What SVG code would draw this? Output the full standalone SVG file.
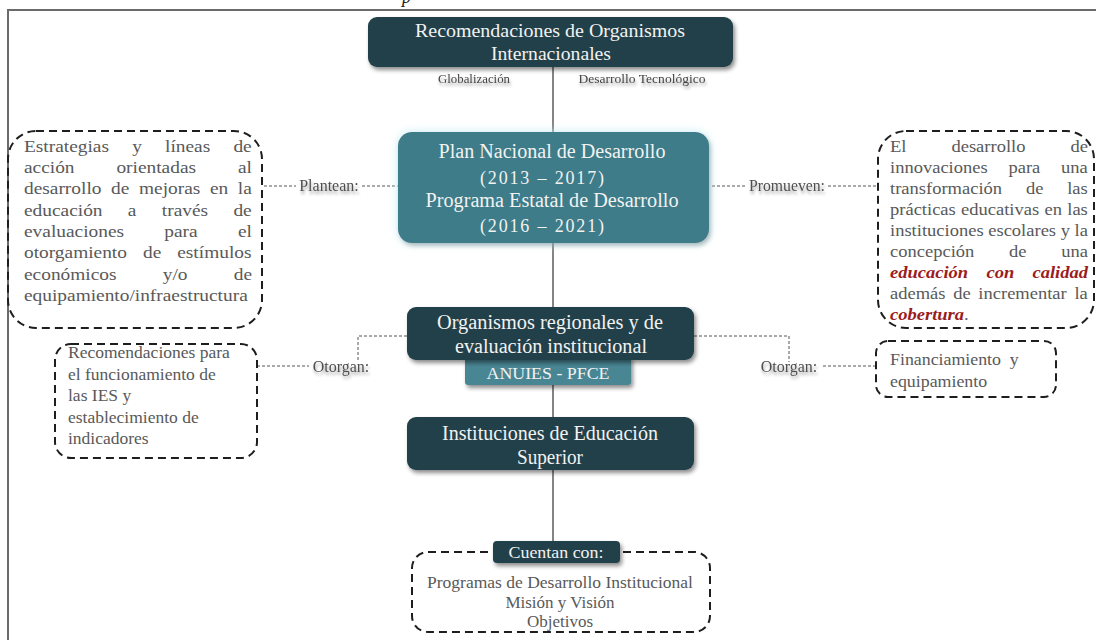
<svg xmlns="http://www.w3.org/2000/svg" width="1096" height="640" viewBox="0 0 1096 640">
<defs>
<filter id="sh" x="-10%" y="-20%" width="120%" height="160%"><feDropShadow dx="2" dy="3" stdDeviation="2" flood-color="#000" flood-opacity="0.45"/></filter>
<filter id="glow" x="-15%" y="-30%" width="130%" height="170%">
<feGaussianBlur in="SourceAlpha" stdDeviation="5" result="b"/>
<feFlood flood-color="#c6ecf4" result="c"/>
<feComposite in="c" in2="b" operator="in" result="g"/>
<feDropShadow in="SourceGraphic" dx="2" dy="3" stdDeviation="2" flood-color="#000" flood-opacity="0.4" result="d"/>
<feMerge><feMergeNode in="g"/><feMergeNode in="d"/></feMerge>
</filter>
<filter id="tsh" x="-10%" y="-40%" width="120%" height="200%"><feDropShadow dx="1" dy="3" stdDeviation="1.5" flood-color="#000" flood-opacity="0.35"/></filter>
</defs>
<style>
.dark{fill:#203f48}
.teal{fill:#3d7b88}
.wt{font-family:"Liberation Serif",serif;fill:#f2f2f2;text-anchor:middle}
.body{font-family:"Liberation Serif",serif;fill:#595959;font-size:17px}
.lbl{font-family:"Liberation Serif",serif;fill:#505050;font-size:16px}
.dash{fill:none;stroke:#1e1e1e;stroke-width:2;stroke-dasharray:8 5}
.fine{fill:none;stroke:#555;stroke-width:1;stroke-dasharray:3 2}
.main{fill:none;stroke:#333;stroke-width:1.2}
.red{fill:#9b1c1c;font-weight:bold;font-style:italic}
</style>
<rect width="1096" height="640" fill="#fff"/>
<path d="M8 640 V10 H1096" fill="none" stroke="#6b6b6b" stroke-width="2"/>
<text x="402" y="3" font-family="Liberation Serif, serif" font-style="italic" font-size="18" fill="#222">p</text>

<g id="connectors">
<path class="main" d="M553 66 V542"/>
<path class="fine" d="M264 186 H296 M362 186 H398"/>
<path class="fine" d="M712 186 H746 M828 186 H878"/>
<path class="fine" d="M407 336 H358 V362 M257 366 H309"/>
<path class="fine" d="M694 336 H789 V362 M823 366 H876"/>
</g>

<g id="n-internacionales">
<rect x="368" y="17" width="365" height="50" rx="9" class="dark" filter="url(#sh)"/>
<text class="wt" font-size="18"><tspan x="550" y="37" textLength="270" lengthAdjust="spacingAndGlyphs">Recomendaciones  de Organismos</tspan><tspan x="551" y="60" textLength="120" lengthAdjust="spacingAndGlyphs">Internacionales</tspan></text>
<text x="474" y="83" font-family="Liberation Serif, serif" font-size="13" fill="#444" text-anchor="middle" filter="url(#tsh)" textLength="72" lengthAdjust="spacingAndGlyphs">Globalización</text>
<text x="642" y="83" font-family="Liberation Serif, serif" font-size="13" fill="#444" text-anchor="middle" filter="url(#tsh)" textLength="127" lengthAdjust="spacingAndGlyphs">Desarrollo Tecnológico</text>
</g>

<g id="n-plan">
<rect x="398" y="132" width="311" height="111" rx="14" class="teal" filter="url(#glow)"/>
<text class="wt" font-size="20"><tspan x="552" y="158" textLength="227" lengthAdjust="spacingAndGlyphs">Plan Nacional de Desarrollo</tspan><tspan x="542" y="184" font-size="18" textLength="124" lengthAdjust="spacing">(2013 – 2017)</tspan><tspan x="552" y="207" textLength="253" lengthAdjust="spacingAndGlyphs">Programa Estatal de Desarrollo</tspan><tspan x="542" y="232" font-size="18" textLength="124" lengthAdjust="spacing">(2016 – 2021)</tspan></text>
</g>

<g id="n-estrategias">
<rect x="8" y="131" width="254" height="197" rx="28" class="dash"/>
<g transform="translate(24,0) scale(1.14,1)" class="body">
<text x="0" y="152" word-spacing="16.1">Estrategias y líneas de</text>
<text x="0" y="173" word-spacing="32.5">acción orientadas al</text>
<text x="0" y="194" word-spacing="4.2">desarrollo de mejoras en la</text>
<text x="0" y="216" word-spacing="18">educación a través de</text>
<text x="0" y="237" word-spacing="31.1">evaluaciones para el</text>
<text x="0" y="258" word-spacing="9.8">otorgamiento de estímulos</text>
<text x="0" y="280" word-spacing="36.3">económicos y/o de</text>
<text x="0" y="301">equipamiento/infraestructura</text>
</g>
<text x="329" y="191" class="lbl" text-anchor="middle" filter="url(#tsh)">Plantean:</text>
</g>

<g id="n-innovaciones">
<rect x="878" y="131" width="216" height="197" rx="28" class="dash"/>
<g transform="translate(890,0) scale(1.09,1)" class="body">
<text x="0" y="152" word-spacing="37">El desarrollo de</text>
<text x="0" y="173" word-spacing="14.8">innovaciones para una</text>
<text x="0" y="194" word-spacing="17.6">transformación de las</text>
<text x="0" y="215" word-spacing="0.6">prácticas educativas en las</text>
<text x="0" y="236">instituciones escolares y la</text>
<text x="0" y="257" word-spacing="27.6">concepción de una</text>
<text x="0" y="278" word-spacing="12.5" class="red">educación con calidad</text>
<text x="0" y="299" word-spacing="2.8">además de incrementar la</text>
<text x="0" y="320"><tspan class="red">cobertura</tspan>.</text>
</g>
<text x="787" y="191" class="lbl" text-anchor="middle" filter="url(#tsh)" textLength="76" lengthAdjust="spacingAndGlyphs">Promueven:</text>
</g>

<g id="n-organismos">
<rect x="465" y="356" width="166" height="29" rx="3" fill="#4a8694" filter="url(#sh)"/>
<rect x="407" y="307" width="287" height="53" rx="9" class="dark" filter="url(#sh)"/>
<text class="wt" font-size="20"><tspan x="550" y="329" textLength="226" lengthAdjust="spacingAndGlyphs">Organismos regionales y de</tspan><tspan x="551" y="353" textLength="192" lengthAdjust="spacingAndGlyphs">evaluación institucional</tspan></text>
<text class="wt" x="548" y="379" font-size="17" textLength="123" lengthAdjust="spacingAndGlyphs">ANUIES - PFCE</text>
</g>

<g id="n-recomendaciones">
<rect x="55" y="344" width="202" height="114" rx="16" class="dash"/>
<g transform="translate(68,0) scale(1.03,1)" class="body">
<text x="0" y="358">Recomendaciones para</text>
<text x="0" y="380">el funcionamiento  de</text>
<text x="0" y="401">las IES y</text>
<text x="0" y="423">establecimiento  de</text>
<text x="0" y="444">indicadores</text>
</g>
<text x="341" y="372" class="lbl" text-anchor="middle" filter="url(#tsh)">Otorgan:</text>
</g>

<g id="n-financiamiento">
<rect x="876" y="341" width="180" height="56" rx="12" class="dash"/>
<g transform="translate(890,0) scale(1.05,1)" class="body">
<text x="0" y="365" word-spacing="4">Financiamiento y</text>
<text x="0" y="387">equipamiento</text>
</g>
<text x="789" y="372" class="lbl" text-anchor="middle" filter="url(#tsh)">Otorgan:</text>
</g>

<g id="n-ies">
<rect x="407" y="417" width="287" height="53" rx="9" class="dark" filter="url(#sh)"/>
<text class="wt" font-size="20"><tspan x="550" y="440" textLength="216" lengthAdjust="spacingAndGlyphs">Instituciones de Educación</tspan><tspan x="550" y="464" textLength="66" lengthAdjust="spacingAndGlyphs">Superior</tspan></text>
</g>

<g id="n-cuentan">
<rect x="412" y="552" width="298" height="80" rx="16" class="dash"/>
<rect x="493" y="541" width="127" height="22" rx="4" class="dark" filter="url(#sh)"/>
<text class="wt" x="556" y="558" font-size="17" textLength="95" lengthAdjust="spacingAndGlyphs">Cuentan con:</text>
<g class="body" text-anchor="middle">
<text x="560" y="588" textLength="266" lengthAdjust="spacingAndGlyphs">Programas de Desarrollo Institucional</text>
<text x="560" y="608">Misión y Visión</text>
<text x="560" y="627">Objetivos</text>
</g>
</g>
</svg>
